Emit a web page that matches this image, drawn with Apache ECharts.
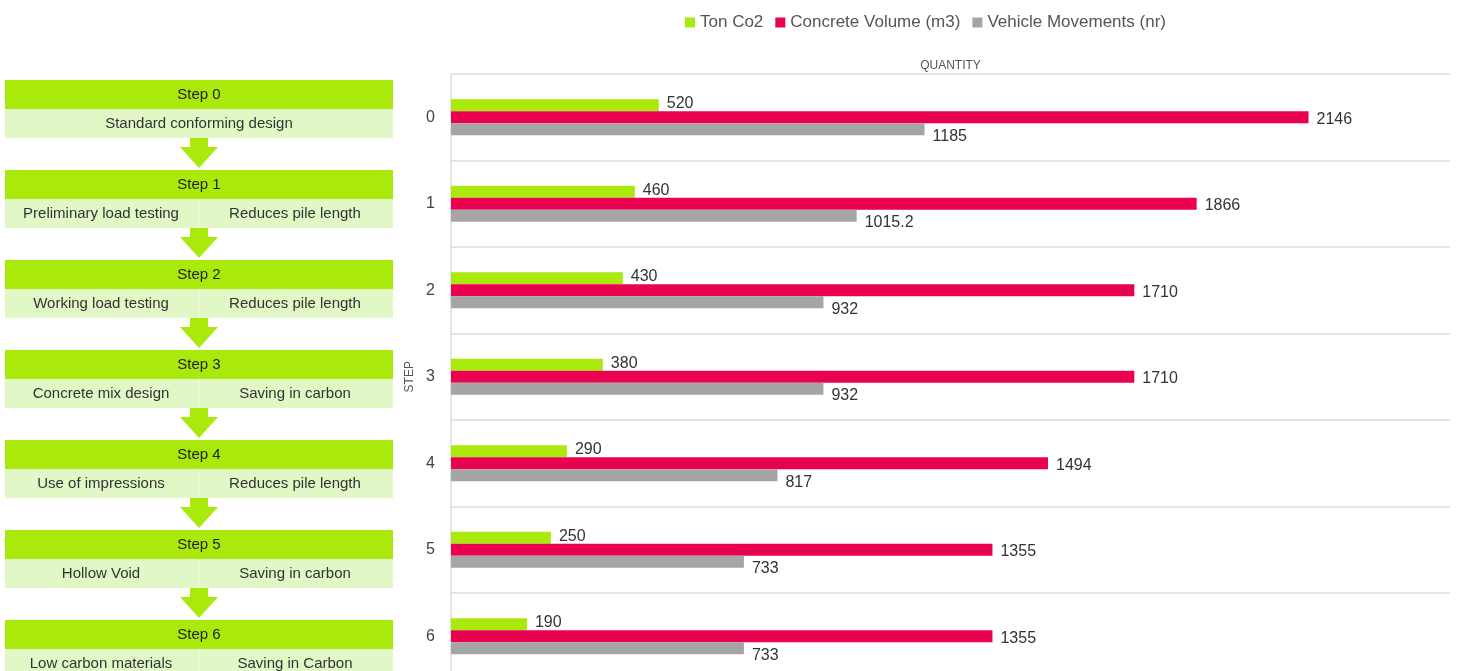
<!DOCTYPE html>
<html>
<head>
<meta charset="utf-8">
<script src="https://cdn.jsdelivr.net/npm/echarts@6/dist/echarts.min.js"></script>
<style>
html,body{margin:0;padding:0;background:#fff;}
#chart{width:1458px;height:671px;}
</style>
</head>
<body>
<div id="chart"></div>
<script>
const categories = ['0', '1', '2', '3', '4', '5', '6'];
const tonCo2 = [520, 460, 430, 380, 290, 250, 190];
const concreteVolume = [2146, 1866, 1710, 1710, 1494, 1355, 1355];
const vehicleMovements = [1185, 1015.2, 932, 932, 817, 733, 733];
const seriesNames = ['Ton Co2', 'Concrete Volume (m3)', 'Vehicle Movements (nr)'];
const stepTitles = ['Step 0', 'Step 1', 'Step 2', 'Step 3', 'Step 4', 'Step 5', 'Step 6'];
const stepActions = ['Standard conforming design', 'Preliminary load testing', 'Working load testing', 'Concrete mix design', 'Use of impressions', 'Hollow Void', 'Low carbon materials'];
const stepEffects = ['', 'Reduces pile length', 'Reduces pile length', 'Saving in carbon', 'Reduces pile length', 'Saving in carbon', 'Saving in Carbon'];

const GREEN = '#a9ea0c';
const LIGHT = '#e1f8c6';
const FONT = '"Liberation Sans", Arial, sans-serif';

const graphics = [];
stepTitles.forEach((t, i) => {
  const y0 = 80 + 90 * i;
  graphics.push({type: 'rect', shape: {x: 5, y: y0, width: 388, height: 29}, style: {fill: GREEN}});
  graphics.push({type: 'rect', shape: {x: 5, y: y0 + 29, width: 388, height: 29}, style: {fill: LIGHT}});
  graphics.push({type: 'text', x: 199, y: y0 + 14.5, style: {text: t, fill: '#222', font: '15px ' + FONT, textAlign: 'center', textVerticalAlign: 'middle'}});
  if (stepEffects[i]) {
    graphics.push({type: 'rect', shape: {x: 198.5, y: y0 + 29, width: 1, height: 29}, style: {fill: '#eefbe0'}});
    graphics.push({type: 'text', x: 101, y: y0 + 43.5, style: {text: stepActions[i], fill: '#333', font: '15px ' + FONT, textAlign: 'center', textVerticalAlign: 'middle'}});
    graphics.push({type: 'text', x: 295, y: y0 + 43.5, style: {text: stepEffects[i], fill: '#333', font: '15px ' + FONT, textAlign: 'center', textVerticalAlign: 'middle'}});
  } else {
    graphics.push({type: 'text', x: 199, y: y0 + 43.5, style: {text: stepActions[i], fill: '#333', font: '15px ' + FONT, textAlign: 'center', textVerticalAlign: 'middle'}});
  }
  if (i < stepTitles.length - 1) {
    const a = y0 + 58;
    graphics.push({type: 'polygon', shape: {points: [[190, a], [208, a], [208, a + 9], [218, a + 9], [199, a + 30], [180, a + 9], [190, a + 9]]}, style: {fill: GREEN}});
  }
});

const chart = echarts.init(document.getElementById('chart'));
const labelBase = {show: true, position: 'right', distance: 8, color: '#333', fontSize: 16, fontFamily: FONT};
chart.setOption({
  animation: false,
  textStyle: {fontFamily: FONT},
  legend: {
    left: 680, top: 9,
    itemWidth: 10, itemHeight: 10, itemGap: 12,
    icon: 'rect',
    textStyle: {fontSize: 17, color: '#555', fontFamily: FONT},
    data: seriesNames
  },
  grid: {left: 451, right: 8, top: 74, height: 605.5, containLabel: false, outerBoundsMode: 'none'},
  xAxis: {
    type: 'value', position: 'top', min: 0, max: 2500,
    name: 'QUANTITY', nameLocation: 'middle', nameGap: 2,
    nameTextStyle: {fontSize: 12, color: '#555'},
    axisLabel: {show: false}, axisTick: {show: false}, axisLine: {show: false}, splitLine: {show: false}
  },
  yAxis: {
    type: 'category', inverse: true, data: categories,
    name: 'STEP', nameLocation: 'middle', nameGap: 29, nameRotate: 90,
    nameTextStyle: {fontSize: 12, color: '#555'},
    axisLabel: {fontSize: 16, color: '#444', margin: 16},
    axisTick: {show: false},
    axisLine: {show: true, lineStyle: {color: '#dcdcdc', width: 1.5}},
    splitLine: {show: true, lineStyle: {color: '#dcdcdc', width: 1.5}}
  },
  series: [
    {name: seriesNames[0], type: 'bar', data: tonCo2, barWidth: 12, barGap: '0%', itemStyle: {color: GREEN},
     label: Object.assign({}, labelBase, {offset: [0, -1.5]})},
    {name: seriesNames[1], type: 'bar', data: concreteVolume, barWidth: 12, barGap: '0%', itemStyle: {color: '#e8024f'},
     label: Object.assign({}, labelBase, {offset: [0, 2]})},
    {name: seriesNames[2], type: 'bar', data: vehicleMovements, barWidth: 12, barGap: '0%', itemStyle: {color: '#a5a5a5'},
     label: Object.assign({}, labelBase, {offset: [0, 7]})}
  ],
  graphic: graphics
});
</script>
</body>
</html>
